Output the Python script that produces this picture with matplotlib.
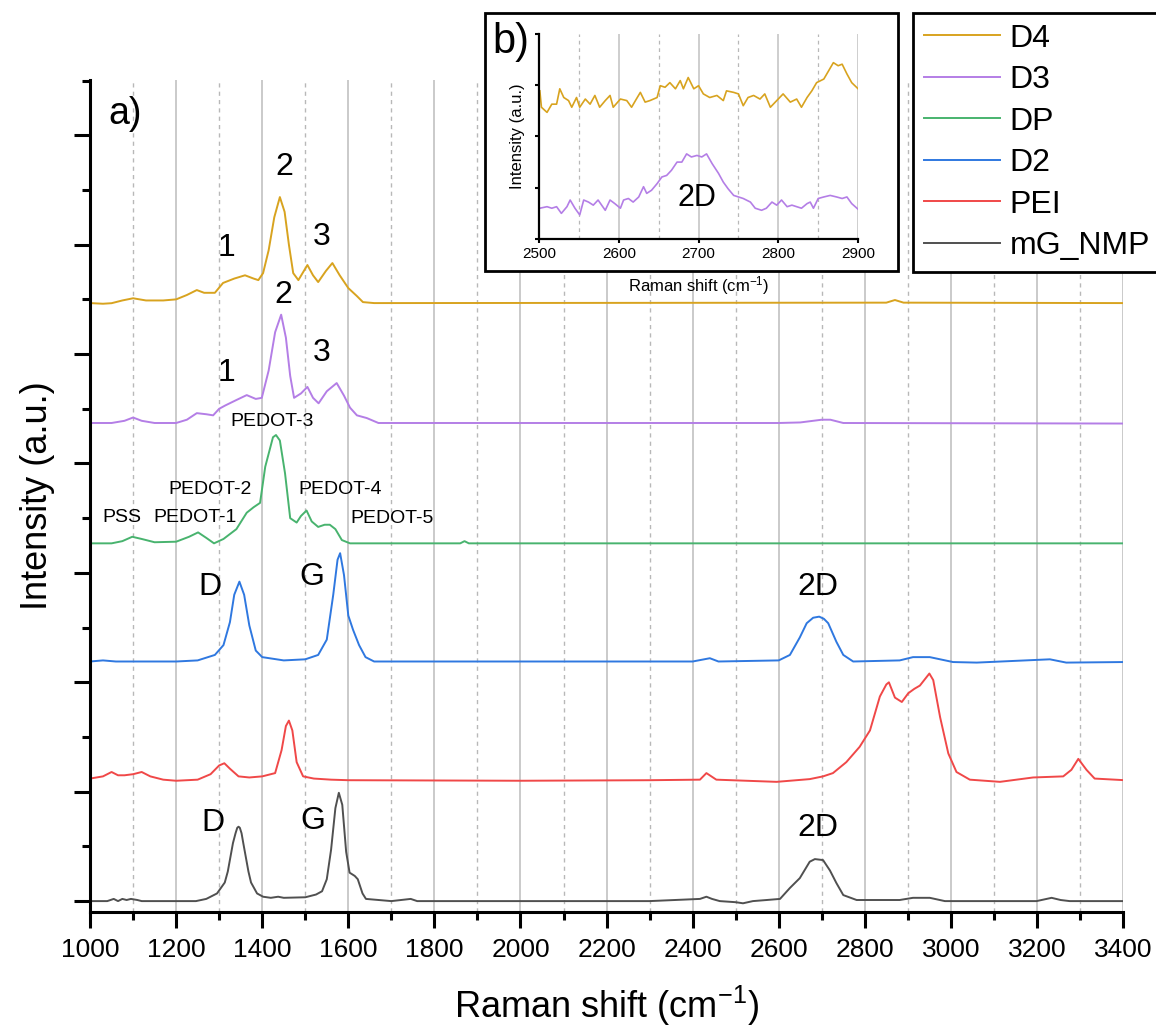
import matplotlib
matplotlib.use("Agg")
import matplotlib.pyplot as plt
from matplotlib.patches import Rectangle
from matplotlib.ticker import MultipleLocator

plt.rcParams['font.family'] = ['Liberation Sans', 'DejaVu Sans']
plt.rcParams['mathtext.fontset'] = 'custom'
plt.rcParams['mathtext.rm'] = 'Liberation Sans'
plt.rcParams['mathtext.it'] = 'Liberation Sans:italic'

# --- stacked Raman spectra (intensity already offset, a.u.) ---
nmp_x = [1000, 1040, 1055, 1065, 1075, 1085, 1095, 1110, 1120, 1200, 1246, 1270, 1295, 1313, 1320,
         1326, 1332, 1338, 1342, 1345, 1348, 1352, 1356, 1362, 1368, 1374, 1388, 1402, 1420, 1437,
         1450, 1500, 1525, 1539, 1550, 1560, 1570, 1578, 1586, 1595, 1603, 1615, 1622, 1633, 1641,
         1700, 1745, 1760, 2030, 2300, 2417, 2432, 2445, 2463, 2500, 2517, 2540, 2572, 2603, 2626,
         2649, 2672, 2684, 2703, 2719, 2734, 2750, 2781, 2881, 2912, 2951, 2986, 3199, 3234, 3255,
         3276, 3400]
nmp_y = [0.0, 0.0, 0.02, 0.0, 0.02, 0.01, 0.02, 0.01, 0.0, 0.0, 0.0, 0.02, 0.07, 0.17, 0.27,
         0.40, 0.53, 0.62, 0.67, 0.68, 0.67, 0.62, 0.53, 0.40, 0.27, 0.17, 0.07, 0.04, 0.03, 0.04,
         0.03, 0.035, 0.06, 0.09, 0.20, 0.47, 0.85, 0.99, 0.88, 0.45, 0.26, 0.23, 0.20, 0.07, 0.02,
         0.0, 0.02, 0.0, 0.0, 0.0, 0.02, 0.04, 0.02, 0.0, -0.01, -0.02, 0.0, 0.01, 0.02, 0.12,
         0.21, 0.36, 0.384, 0.375, 0.28, 0.165, 0.055, 0.01, 0.01, 0.03, 0.03, 0.0, 0.0, 0.03, 0.01,
         0.0, 0.0]

pei_x = [1000, 1030, 1050, 1065, 1080, 1100, 1120, 1140, 1170, 1200, 1250, 1280, 1300, 1312, 1325,
         1345, 1370, 1400, 1430, 1445, 1455, 1462, 1470, 1480, 1495, 1520, 1560, 1600, 2000, 2300,
         2417, 2432, 2455, 2595, 2672, 2703, 2726, 2757, 2788, 2812, 2835, 2850, 2856, 2870, 2886,
         2901, 2915, 2928, 2940, 2950, 2959, 2975, 2994, 3013, 3044, 3114, 3191, 3261, 3280, 3296,
         3315, 3334, 3400]
pei_y = [1.12, 1.14, 1.18, 1.15, 1.15, 1.16, 1.18, 1.14, 1.11, 1.10, 1.11, 1.16, 1.24, 1.26, 1.21,
         1.14, 1.13, 1.14, 1.17, 1.38, 1.60, 1.65, 1.56, 1.27, 1.14, 1.12, 1.11, 1.105, 1.10, 1.105,
         1.11, 1.17, 1.11, 1.09, 1.115, 1.14, 1.17, 1.27, 1.41, 1.56, 1.87, 1.98, 2.00, 1.86, 1.82,
         1.90, 1.94, 1.97, 2.03, 2.08, 2.02, 1.68, 1.35, 1.18, 1.11, 1.09, 1.13, 1.14, 1.20, 1.30,
         1.20, 1.12, 1.106]

d2_x = [1000, 1030, 1060, 1100, 1200, 1250, 1290, 1310, 1325, 1335, 1347, 1358, 1370, 1385, 1400,
        1450, 1500, 1530, 1550, 1565, 1575, 1581, 1590, 1600, 1611, 1625, 1640, 1660, 2400, 2440,
        2460, 2600, 2626, 2649, 2665, 2680, 2694, 2705, 2715, 2734, 2750, 2773, 2881, 2912, 2951,
        3005, 3060, 3230, 3268, 3400]
d2_y = [2.19, 2.20, 2.19, 2.19, 2.19, 2.20, 2.25, 2.34, 2.55, 2.80, 2.92, 2.80, 2.52, 2.29, 2.23,
        2.20, 2.21, 2.25, 2.39, 2.80, 3.12, 3.18, 2.98, 2.61, 2.48, 2.34, 2.23, 2.19, 2.19, 2.22,
        2.19, 2.20, 2.25, 2.41, 2.54, 2.59, 2.60, 2.58, 2.54, 2.37, 2.25, 2.19, 2.20, 2.23, 2.23,
        2.185, 2.18, 2.21, 2.18, 2.185]

dp_x = [1000, 1050, 1075, 1098, 1120, 1150, 1200, 1230, 1251, 1270, 1288, 1310, 1340, 1364, 1380,
        1395, 1407, 1425, 1432, 1441, 1453, 1465, 1480, 1490, 1503, 1515, 1530, 1545, 1557, 1570,
        1585, 1604, 1860, 1870, 1880, 3400]
dp_y = [3.27, 3.27, 3.29, 3.33, 3.31, 3.28, 3.285, 3.33, 3.37, 3.32, 3.27, 3.31, 3.40, 3.55, 3.60,
        3.64, 3.97, 4.24, 4.26, 4.21, 3.91, 3.50, 3.46, 3.52, 3.57, 3.47, 3.42, 3.44, 3.44, 3.40,
        3.30, 3.27, 3.27, 3.29, 3.27, 3.27]

d3_x = [1000, 1050, 1080, 1100, 1120, 1150, 1200, 1225, 1248, 1270, 1286, 1300, 1314, 1340, 1364,
        1385, 1399, 1415, 1430, 1444, 1455, 1465, 1474, 1490, 1505, 1518, 1531, 1550, 1573, 1590,
        1604, 1620, 1643, 1670, 2600, 2650, 2700, 2720, 2750, 3400]
d3_y = [4.37, 4.37, 4.39, 4.42, 4.39, 4.37, 4.37, 4.40, 4.46, 4.45, 4.44, 4.50, 4.53, 4.58, 4.625,
        4.59, 4.60, 4.85, 5.20, 5.36, 5.15, 4.80, 4.60, 4.64, 4.70, 4.60, 4.55, 4.66, 4.735, 4.62,
        4.51, 4.44, 4.415, 4.37, 4.37, 4.375, 4.40, 4.40, 4.37, 4.365]

d4_x = [1000, 1030, 1050, 1075, 1100, 1130, 1170, 1200, 1225, 1248, 1265, 1290, 1309, 1335, 1360,
        1380, 1391, 1402, 1415, 1428, 1441, 1452, 1462, 1472, 1484, 1505, 1518, 1530, 1548, 1563,
        1580, 1600, 1620, 1634, 1660, 2850, 2870, 2890, 3400]
d4_y = [5.466, 5.46, 5.465, 5.49, 5.51, 5.49, 5.49, 5.50, 5.54, 5.585, 5.56, 5.56, 5.65, 5.69, 5.72,
        5.69, 5.676, 5.74, 5.95, 6.25, 6.435, 6.30, 6.00, 5.74, 5.676, 5.814, 5.72, 5.658, 5.76, 5.832,
        5.72, 5.603, 5.53, 5.475, 5.466, 5.47, 5.494, 5.47, 5.466]

series_names = ['mG_NMP', 'PEI', 'D2', 'DP', 'D3', 'D4']
series_colors = ['#505050', '#F04848', '#2F78E0', '#48B36E', '#B47EE6', '#D8A31F']

# --- inset (b): 2D region of D4 and D3 ---
inset_d4_x = [2501, 2503, 2510, 2516, 2522, 2526, 2531, 2537, 2541, 2547, 2551, 2558, 2564, 2570,
              2576, 2583, 2589, 2593, 2602, 2610, 2616, 2622, 2627, 2633, 2639, 2648, 2652, 2658,
              2664, 2671, 2677, 2681, 2687, 2694, 2700, 2706, 2714, 2723, 2731, 2735, 2744, 2750,
              2756, 2762, 2769, 2777, 2783, 2790, 2798, 2806, 2815, 2823, 2829, 2836, 2842, 2848,
              2857, 2863, 2869, 2875, 2880, 2886, 2892, 2900]
inset_d4_y = [2.89, 2.57, 2.47, 2.63, 2.63, 2.93, 2.76, 2.70, 2.57, 2.76, 2.57, 2.73, 2.63, 2.80,
              2.57, 2.70, 2.80, 2.57, 2.73, 2.70, 2.57, 2.73, 2.86, 2.67, 2.70, 2.76, 2.99, 2.96,
              3.05, 2.93, 3.09, 2.93, 3.15, 2.93, 2.99, 2.83, 2.76, 2.80, 2.70, 2.89, 2.86, 2.83,
              2.60, 2.76, 2.80, 2.73, 2.83, 2.57, 2.70, 2.83, 2.67, 2.73, 2.57, 2.76, 2.89, 3.05,
              3.12, 3.28, 3.44, 3.38, 3.41, 3.22, 3.05, 2.93]
inset_d3_x = [2501, 2510, 2516, 2522, 2528, 2535, 2539, 2545, 2551, 2556, 2562, 2568, 2574, 2583,
              2589, 2595, 2602, 2606, 2612, 2618, 2625, 2631, 2635, 2641, 2648, 2654, 2660, 2666,
              2673, 2679, 2685, 2691, 2698, 2704, 2710, 2717, 2725, 2731, 2737, 2744, 2750, 2756,
              2765, 2771, 2779, 2785, 2792, 2798, 2804, 2811, 2817, 2823, 2829, 2836, 2840, 2844,
              2850, 2857, 2865, 2873, 2880, 2886, 2892, 2900]
inset_d3_y = [0.60, 0.63, 0.60, 0.63, 0.50, 0.63, 0.76, 0.60, 0.47, 0.76, 0.72, 0.66, 0.76, 0.56,
              0.76, 0.69, 0.60, 0.76, 0.79, 0.72, 0.82, 1.02, 0.89, 0.95, 1.08, 1.21, 1.24, 1.34,
              1.50, 1.50, 1.66, 1.60, 1.63, 1.60, 1.66, 1.47, 1.28, 1.11, 0.98, 0.85, 0.82, 0.79,
              0.72, 0.60, 0.56, 0.60, 0.72, 0.66, 0.76, 0.63, 0.66, 0.63, 0.60, 0.69, 0.72, 0.60,
              0.79, 0.82, 0.85, 0.82, 0.79, 0.82, 0.69, 0.58]

fig = plt.figure(figsize=(11.56, 10.35), dpi=100)
ax = fig.add_axes([0.0779, 0.1188, 0.8936, 0.8039])

data = [(nmp_x, nmp_y), (pei_x, pei_y), (d2_x, d2_y), (dp_x, dp_y), (d3_x, d3_y), (d4_x, d4_y)]
handles = []
for (xs, ys), name, col in zip(data, series_names, series_colors):
    h, = ax.plot(xs, ys, color=col, lw=1.4, label=name)
    handles.append(h)

ax.set_xlim(1000, 3400)
ax.set_ylim(-0.1, 7.505)
ax.xaxis.set_major_locator(MultipleLocator(200))
ax.xaxis.set_minor_locator(MultipleLocator(100))
ax.yaxis.set_major_locator(MultipleLocator(1))
ax.yaxis.set_minor_locator(MultipleLocator(0.5))
ax.tick_params(which='major', direction='out', length=11.5, width=2.2, labelsize=19, pad=7)
ax.tick_params(which='minor', direction='out', length=5.5, width=2.2)
ax.tick_params(axis='y', labelleft=False)
for s in ['top', 'right']:
    ax.spines[s].set_visible(False)
for s in ['left', 'bottom']:
    ax.spines[s].set_linewidth(2.2)
ax.set_axisbelow(True)
ax.grid(axis='x', which='major', color='#c6c6c6', lw=1.3, ls='-')
ax.grid(axis='x', which='minor', color='#b8b8b8', lw=1.0, ls=(0, (3, 3)))
ax.set_xlabel('Raman shift (cm$^{-1}$)', fontsize=26, labelpad=16)
ax.set_ylabel('Intensity (a.u.)', fontsize=26, labelpad=14)

ax.text(1042, 7.19, 'a)', fontsize=27, ha='left', va='center')

big = 23
small = 14
labels_big = [(1318, 5.97, '1'), (1451, 6.71, '2'), (1537, 6.07, '3'),
              (1318, 4.83, '1'), (1448, 5.54, '2'), (1537, 5.01, '3'),
              (1279, 2.87, 'D'), (1516, 2.96, 'G'), (2691, 2.87, '2D'),
              (1286, 0.71, 'D'), (1518, 0.73, 'G'), (2691, 0.67, '2D')]
for x, y, t in labels_big:
    ax.text(x, y, t, fontsize=big, ha='center', va='center')
labels_small = [(1074, 3.51, 'PSS'), (1244, 3.51, 'PEDOT-1'), (1279, 3.76, 'PEDOT-2'),
                (1423, 4.38, 'PEDOT-3'), (1581, 3.76, 'PEDOT-4'), (1702, 3.50, 'PEDOT-5')]
for x, y, t in labels_small:
    ax.text(x, y, t, fontsize=small, ha='center', va='center')

# inset frame
fig.patches.append(Rectangle((0.4196, 0.7382), 0.3573, 0.2493, transform=fig.transFigure,
                             facecolor='white', edgecolor='black', lw=2, zorder=2))

axi = fig.add_axes([0.4663, 0.7691, 0.2760, 0.1981], zorder=3)
axi.plot(inset_d4_x, inset_d4_y, color=series_colors[5], lw=1.2)
axi.plot(inset_d3_x, inset_d3_y, color=series_colors[4], lw=1.2)
axi.set_xlim(2500, 2900)
axi.set_ylim(0, 4)
axi.xaxis.set_major_locator(MultipleLocator(100))
axi.xaxis.set_minor_locator(MultipleLocator(50))
axi.yaxis.set_major_locator(MultipleLocator(1))
axi.tick_params(which='major', direction='out', length=3, width=1.5, labelsize=11, pad=3)
axi.tick_params(which='minor', length=0)
axi.tick_params(axis='y', labelleft=False)
for s in ['top', 'right']:
    axi.spines[s].set_visible(False)
for s in ['left', 'bottom']:
    axi.spines[s].set_linewidth(1.6)
axi.set_axisbelow(True)
axi.grid(axis='x', which='major', color='#c6c6c6', lw=1.2, ls='-')
axi.grid(axis='x', which='minor', color='#b8b8b8', lw=0.9, ls=(0, (3, 3)))
axi.set_xlabel('Raman shift (cm$^{-1}$)', fontsize=12, labelpad=9)
axi.set_ylabel('Intensity (a.u.)', fontsize=12, labelpad=7)
axi.text(2698, 0.80, '2D', fontsize=22, ha='center', va='center')
fig.text(492 / 1156, 1 - 42 / 1035, 'b)', fontsize=30, ha='left', va='center', zorder=4)

leg = fig.legend(handles[::-1], series_names[::-1], loc='upper left',
                 bbox_to_anchor=(913 / 1156, 1 - 13 / 1035), frameon=True, fancybox=False,
                 edgecolor='black', framealpha=1, fontsize=23, handlelength=2.4,
                 handletextpad=0.3, labelspacing=0.36, borderpad=0.33, borderaxespad=0)
leg.get_frame().set_linewidth(2)

fig.savefig('out.png', dpi=100)
